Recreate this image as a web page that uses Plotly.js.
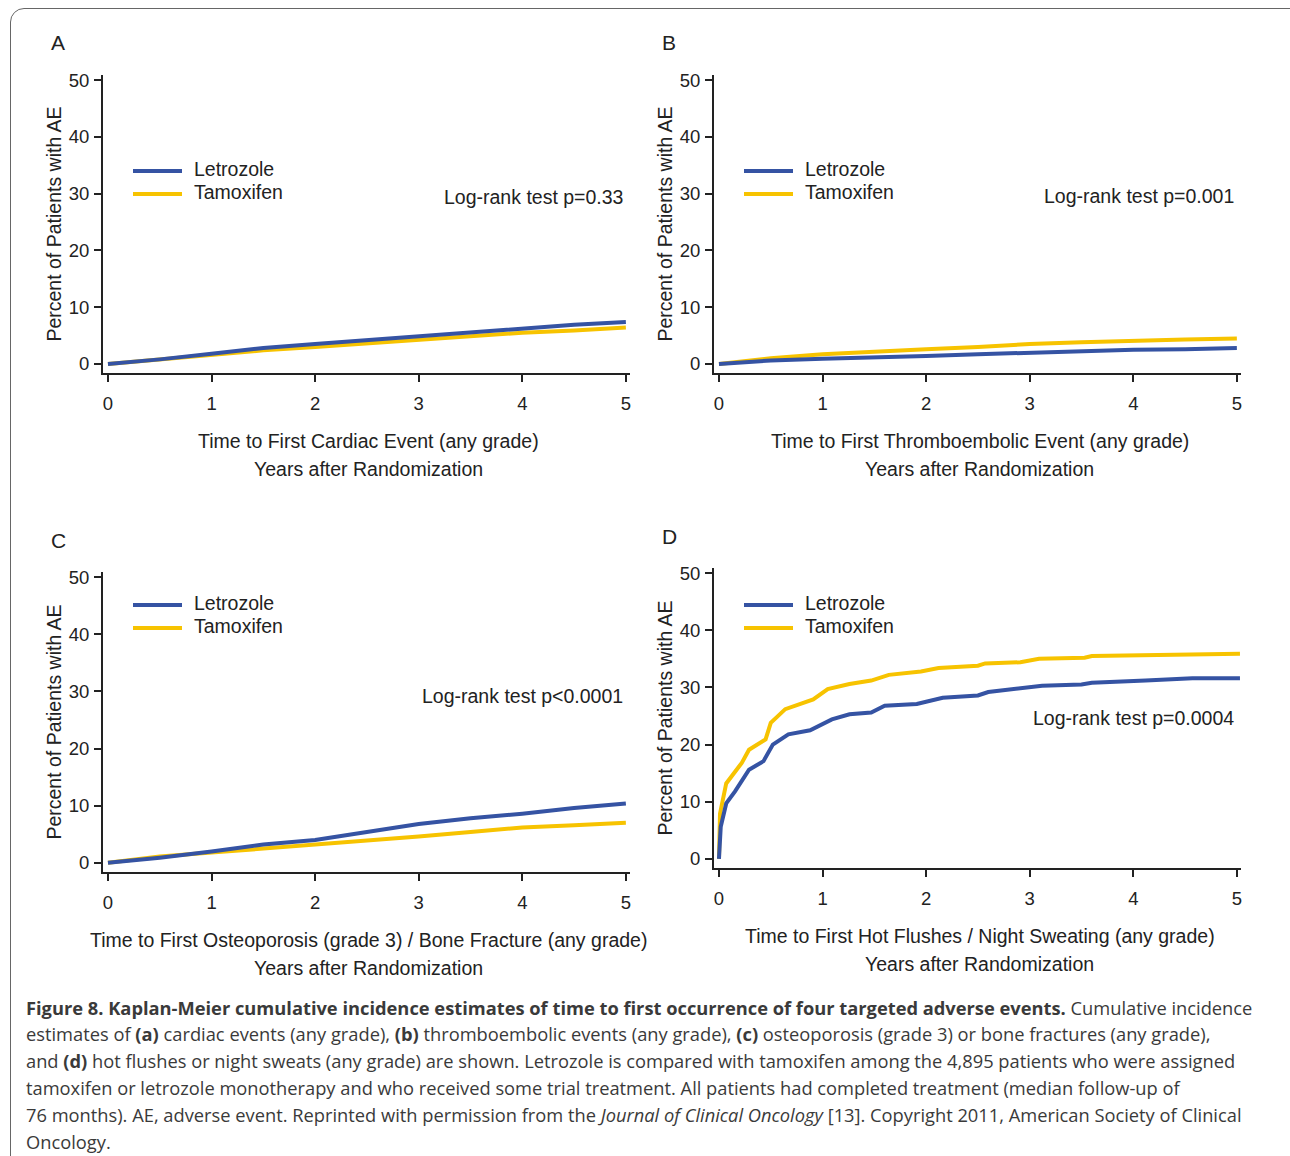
<!DOCTYPE html>
<html>
<head>
<meta charset="utf-8">
<script src="https://cdn.plot.ly/plotly-3.0.1.min.js"></script>
<style>
body { margin: 0; background: #fff; }
#frame { position: absolute; left: 10px; top: 8px; width: 1300px; height: 1170px; border: 1px solid #666; border-radius: 14px; }
#chart { position: absolute; left: 0; top: 0; width: 1290px; height: 1156px; }
</style>
</head>
<body>
<div id="frame"></div>
<div id="chart"></div>
<script>
// Panel A: cardiac events
const tA = [0, 0.5, 1, 1.5, 2, 2.5, 3, 3.5, 4, 4.5, 5];
const letA = [0, 0.8, 1.8, 2.8, 3.5, 4.2, 4.9, 5.5, 6.2, 6.9, 7.4];
const tamA = [0, 0.8, 1.6, 2.4, 3.0, 3.6, 4.3, 4.9, 5.5, 5.9, 6.4];
// Panel B: thromboembolic events
const letB = [0, 0.6, 0.9, 1.1, 1.4, 1.7, 2.0, 2.2, 2.5, 2.6, 2.8];
const tamB = [0, 1.0, 1.7, 2.2, 2.6, 3.0, 3.5, 3.8, 4.1, 4.3, 4.5];
// Panel C: osteoporosis / fracture
const letC = [0, 0.9, 2.0, 3.2, 4.0, 5.4, 6.8, 7.8, 8.6, 9.6, 10.4];
const tamC = [0, 1.1, 1.8, 2.5, 3.1, 3.8, 4.6, 5.4, 6.2, 6.6, 7.0];
// Panel D: hot flushes / night sweating
const tLetD = [0, 0.017, 0.07, 0.155, 0.29, 0.43, 0.52, 0.67, 0.88, 1.09, 1.26, 1.47, 1.6, 1.91, 2.16, 2.5, 2.6, 3.02, 3.12, 3.5, 3.6, 4.12, 4.57, 5.03];
const letD = [0, 5.6, 9.7, 11.8, 15.6, 17.1, 20, 21.8, 22.5, 24.4, 25.3, 25.6, 26.8, 27.1, 28.2, 28.6, 29.2, 30, 30.3, 30.5, 30.8, 31.2, 31.6, 31.6];
const tTamD = [0, 0.01, 0.07, 0.14, 0.22, 0.29, 0.45, 0.5, 0.64, 0.91, 1.05, 1.26, 1.47, 1.64, 1.95, 2.12, 2.5, 2.57, 2.91, 3.09, 3.53, 3.6, 4.29, 5.03];
const tamD = [0, 7.9, 13.2, 15, 16.8, 19.1, 20.9, 23.8, 26.2, 27.9, 29.7, 30.6, 31.2, 32.2, 32.8, 33.4, 33.8, 34.2, 34.4, 35, 35.2, 35.5, 35.7, 35.9];

const BLUE = '#3553a3', GOLD = '#f7c300';
const W = 1290, H = 1156;
const px = x => x / W, py = y => 1 - y / H;
const FONT = 'Liberation Sans, Arial, sans-serif';

const panels = [
  {ax: '', x: [103, 630], y: [75, 373], lt: tA, l: letA, tt: tA, t: tamA, letter: 'A',
   title: 'Time to First Cardiac Event (any grade)', p: 'Log-rank test p=0.33', py: 197, leg: 171},
  {ax: '2', x: [714, 1241], y: [75, 373], lt: tA, l: letB, tt: tA, t: tamB, letter: 'B',
   title: 'Time to First Thromboembolic Event (any grade)', p: 'Log-rank test p=0.001', py: 196, leg: 171},
  {ax: '3', x: [103, 630], y: [572, 872], lt: tA, l: letC, tt: tA, t: tamC, letter: 'C',
   title: 'Time to First Osteoporosis (grade 3) / Bone Fracture (any grade)', p: 'Log-rank test p<0.0001', py: 696, leg: 605},
  {ax: '4', x: [714, 1241], y: [568, 868], lt: tLetD, l: letD, tt: tTamD, t: tamD, letter: 'D',
   title: 'Time to First Hot Flushes / Night Sweating (any grade)', p: 'Log-rank test p=0.0004', py: 718, leg: 605}
];

const data = [], annotations = [], shapes = [];
const layout = {
  width: W, height: H, margin: {l: 0, r: 0, t: 0, b: 0},
  paper_bgcolor: 'rgba(0,0,0,0)', plot_bgcolor: 'rgba(0,0,0,0)',
  showlegend: false, font: {family: FONT, color: '#222', size: 19}
};

panels.forEach(p => {
  const xa = 'x' + p.ax, ya = 'y' + p.ax;
  data.push({x: p.tt, y: p.t, xaxis: xa, yaxis: ya, mode: 'lines', line: {color: GOLD, width: 4}});
  data.push({x: p.lt, y: p.l, xaxis: xa, yaxis: ya, mode: 'lines', line: {color: BLUE, width: 4}});
  const axCommon = {showgrid: false, zeroline: false, showline: true, linecolor: '#222', linewidth: 2,
    ticks: 'outside', ticklen: 7, tickwidth: 2, tickcolor: '#222', tickfont: {size: 18.5, family: FONT}};
  layout['xaxis' + p.ax] = Object.assign({}, axCommon, {domain: [px(p.x[0]), px(p.x[1])], range: [-0.048, 5.04],
    tickvals: [0, 1, 2, 3, 4, 5], anchor: ya, ticklabelstandoff: 6});
  layout['yaxis' + p.ax] = Object.assign({}, axCommon, {domain: [py(p.y[1]), py(p.y[0])], range: [-1.6, 50.9],
    tickvals: [0, 10, 20, 30, 40, 50], anchor: xa, ticklabelstandoff: 1,
    title: {text: 'Percent of Patients with AE', font: {size: 19.5, family: FONT}, standoff: 2}});
  const cx = (p.x[0] + p.x[1]) / 2 + 2;
  const bottom = p.y[1];
  annotations.push({xref: 'paper', yref: 'paper', x: px(cx), y: py(bottom + 68), text: p.title,
    showarrow: false, font: {size: 19.5}, xanchor: 'center', yanchor: 'middle'});
  annotations.push({xref: 'paper', yref: 'paper', x: px(cx), y: py(bottom + 96), text: 'Years after Randomization',
    showarrow: false, font: {size: 19.5}, xanchor: 'center', yanchor: 'middle'});
  annotations.push({xref: 'paper', yref: 'paper', x: px(p.x[0] - 54), y: py(p.y[0] - 32), text: p.letter,
    showarrow: false, font: {size: 21}, xanchor: 'left', yanchor: 'middle'});
  annotations.push({xref: 'paper', yref: 'paper', x: px(p.x[1] - 5), y: py(p.py), text: p.p,
    showarrow: false, font: {size: 19.5}, xanchor: 'right', yanchor: 'middle'});
  const lx = p.x[0] + 30;
  [['Letrozole', BLUE, 0], ['Tamoxifen', GOLD, 23]].forEach(([name, col, dy]) => {
    shapes.push({type: 'line', xref: 'paper', yref: 'paper', x0: px(lx), x1: px(lx + 49),
      y0: py(p.leg + dy), y1: py(p.leg + dy), line: {color: col, width: 4}});
    annotations.push({xref: 'paper', yref: 'paper', x: px(lx + 59), y: py(p.leg + dy - 2), text: name,
      showarrow: false, font: {size: 19.5}, xanchor: 'left', yanchor: 'middle'});
  });
});

const caption = [
  '<b>Figure 8. Kaplan-Meier cumulative incidence estimates of time to first occurrence of four targeted adverse events.</b> Cumulative incidence',
  'estimates of <b>(a)</b> cardiac events (any grade), <b>(b)</b> thromboembolic events (any grade), <b>(c)</b> osteoporosis (grade 3) or bone fractures (any grade),',
  'and <b>(d)</b> hot flushes or night sweats (any grade) are shown. Letrozole is compared with tamoxifen among the 4,895 patients who were assigned',
  'tamoxifen or letrozole monotherapy and who received some trial treatment. All patients had completed treatment (median follow-up of',
  '76 months). AE, adverse event. Reprinted with permission from the <i>Journal of Clinical Oncology</i> [13]. Copyright 2011, American Society of Clinical',
  'Oncology.'
];
caption.forEach((line, i) => {
  annotations.push({xref: 'paper', yref: 'paper', x: px(24), y: py(1007 + i * 26.8), text: line,
    showarrow: false, xanchor: 'left', yanchor: 'middle',
    font: {size: 18.3, family: 'Open Sans, Noto Sans, sans-serif', color: '#3a3a3a'}});
});

layout.annotations = annotations;
layout.shapes = shapes;
Plotly.newPlot('chart', data, layout, {staticPlot: true});
</script>
</body>
</html>
